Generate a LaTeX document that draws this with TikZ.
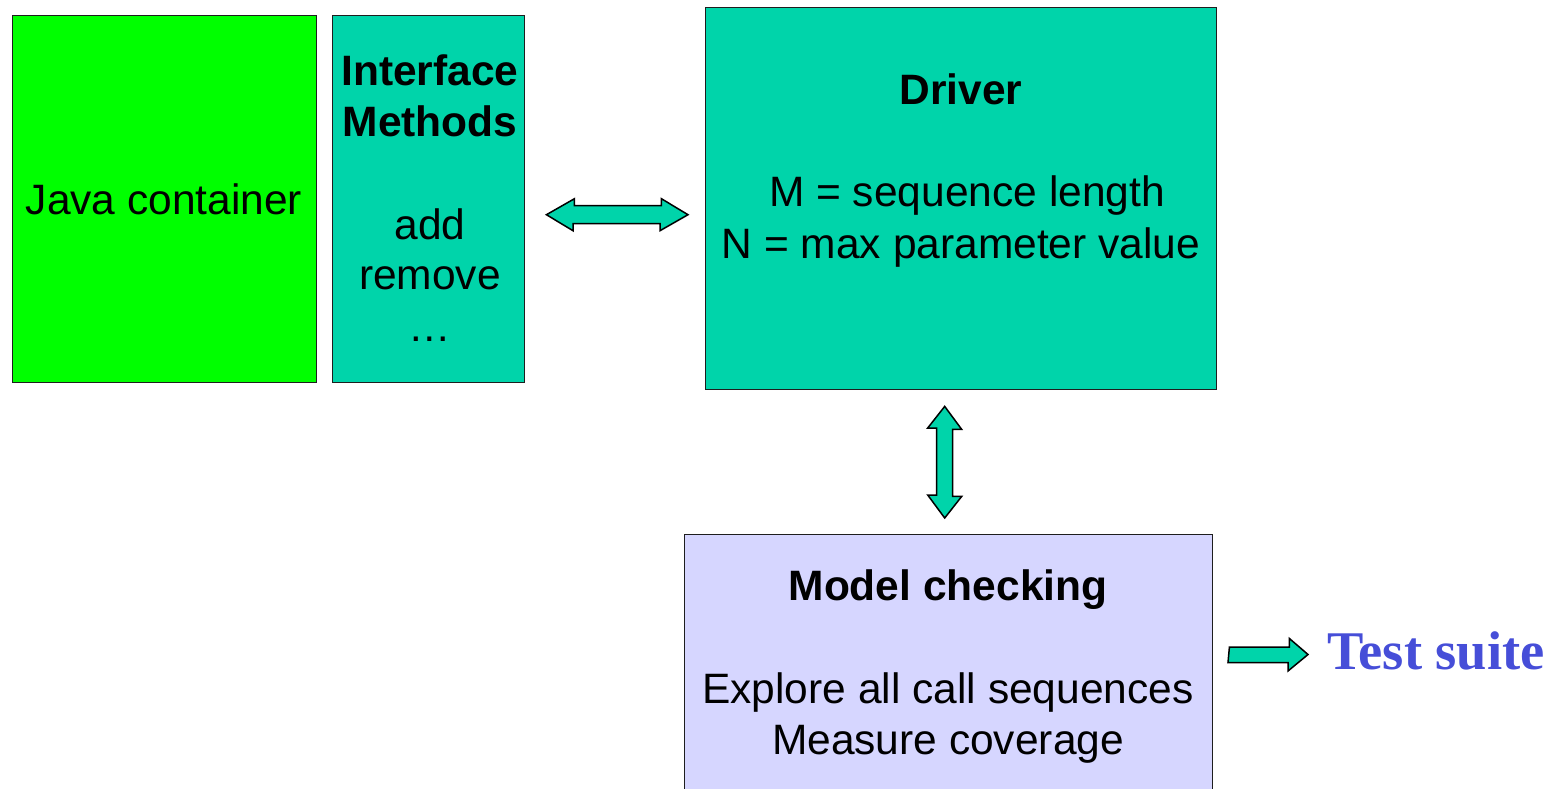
\documentclass[tikz,border=0pt]{standalone}
\usepackage{fontspec}
\setmainfont{Liberation Sans}
\newfontfamily\serifbold{Liberation Serif}
\usetikzlibrary{calc}
\definecolor{boxgreen}{RGB}{0,255,0}
\definecolor{boxteal}{RGB}{0,212,170}
\definecolor{boxlav}{RGB}{214,214,255}
\definecolor{suiteblue}{RGB}{70,78,216}
\definecolor{edge}{RGB}{30,30,30}
\tikzset{
  panel/.style={draw=edge, line width=1.4pt, rectangle, inner sep=0pt, anchor=north west},
  txt/.style={inner sep=0pt, anchor=base, font=\fontsize{42.5}{51}\selectfont},
  btxt/.style={txt, font=\fontsize{42.5}{51}\selectfont\bfseries},
  blockarrow/.style={draw=black, fill=boxteal, line width=1.5pt, line join=miter}
}
\begin{document}
\begin{tikzpicture}[x=1pt, y=-1pt]
  \useasboundingbox (0,0) rectangle (1553,788);
  \clip (0,0) rectangle (1553,788);

  % boxes
  \node[panel, fill=boxgreen, minimum width=304pt, minimum height=367pt] (java) at (12,15) {};
  \node[panel, fill=boxteal, minimum width=192pt, minimum height=367pt] (ifc) at (332,15) {};
  \node[panel, fill=boxteal, minimum width=511pt, minimum height=382pt] (drv) at (705,7) {};
  \node[panel, fill=boxlav, minimum width=528pt, minimum height=280pt] (mc) at (684,534) {};

  % box texts
  \node[txt] (javaT) at (164,214) {Java container};
  \node[btxt] (ifcT1) at (430,85) {Interface};
  \node[btxt] (ifcT2) at (430,136) {Methods};
  \node[txt] (ifcT3) at (430,239) {add};
  \node[txt] (ifcT4) at (430,289) {remove};
  \node[txt] (ifcT5) at (430,341) {\char"2026};

  \node[btxt] (drvT1) at (961,104) {Driver};
  \node[txt] (drvT2) at (967,206) {M = sequence length};
  \node[txt] (drvT3) at (961,258) {N = max parameter value};

  \node[btxt] (mcT1) at (948,600) {Model checking};
  \node[txt] (mcT2) at (948,703) {Explore all call sequences};
  \node[txt] (mcT3) at (948,754) {Measure coverage};

  \node[inner sep=0pt, anchor=base west, text=suiteblue,
        font=\fontsize{54.5}{60}\selectfont\serifbold\bfseries] (suite) at (1327,669) {Test suite};

  % arrow end points
  \coordinate (h1) at ($(ifc.east)+(21,15.5)$);
  \coordinate (h2) at ($(drv.west)+(-17,16)$);
  \coordinate (v1) at ($(drv.south)+(-16.5,16)$);
  \coordinate (v2) at ($(mc.north)+(-4,-16)$);
  \coordinate (r1) at ($(mc.north east)+(16,120.5)$);
  \coordinate (r2) at ($(suite.base west)+(-19,-14.5)$);

  % Interface <-> Driver
  \draw[blockarrow] (h1) -- ++(28,-16) -- ++(0,7) -- ++(87,0) -- ++(0,-7)
    -- (h2) -- ++(-28,16) -- ++(0,-7) -- ++(-87,0) -- ++(0,7) -- cycle;

  % Driver <-> Model checking
  \draw[blockarrow] (v1) -- ++(17,23) -- ++(-9,0) -- ++(0,67) -- ++(9,0)
    -- (v2) -- ++(-17,-23) -- ++(9,0) -- ++(0,-67) -- ++(-9,0) -- cycle;

  % Model checking -> Test suite
  \draw[blockarrow] ($(r1)+(0,-7.5)$) -- ++(60,0) -- ++(0,-8.5) -- (r2)
    -- ++(-20,16.5) -- ++(0,-8.5) -- ++(-60,0) -- cycle;
\end{tikzpicture}
\end{document}
